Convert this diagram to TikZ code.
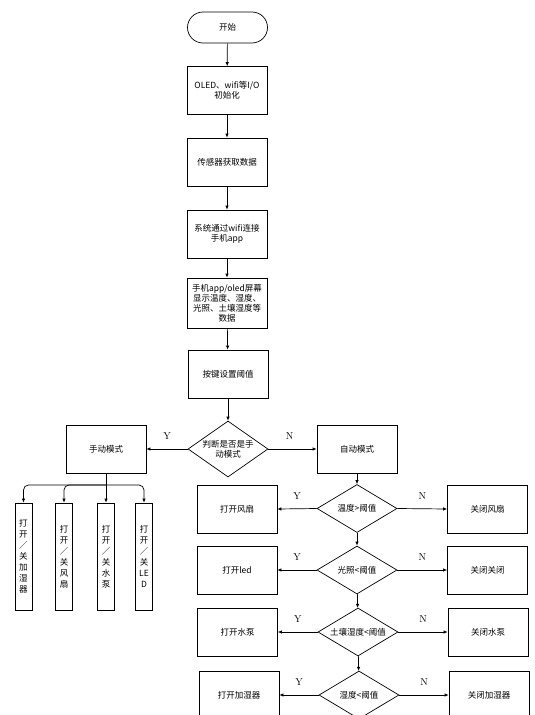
\documentclass[tikz,border=0pt]{standalone}
\usepackage{fontspec}
\newfontfamily\cjk{Noto Sans CJK SC}
\usepackage{tikz}
\usetikzlibrary{arrows.meta,shapes.geometric}

\tikzset{
  box/.style={draw, line width=0.7pt, minimum width=80pt, minimum height=48pt,
    inner sep=1pt, align=center, font=\cjk\fontsize{8.5}{10}\selectfont},
  startbox/.style={box, rounded corners=15.5pt, minimum height=31pt},
  judge/.style={draw, diamond, line width=0.7pt, minimum width=80pt, minimum height=48pt,
    aspect=1.67, inner sep=0pt, align=center, font=\cjk\fontsize{8.5}{10}\selectfont},
  vbox/.style={draw, line width=0.7pt, minimum width=17pt, minimum height=107pt,
    inner sep=0pt, align=center, font=\cjk\fontsize{8.5}{11}\selectfont},
  arr/.style={-{Latex[length=4pt,width=3.5pt]}, line width=0.7pt},
  yn/.style={inner sep=0pt, font=\fontsize{10}{10}\selectfont}
}

\begin{document}
\begin{tikzpicture}[x=1pt,y=-1pt]
  % 画面大小固定 (像素坐标, y 向下)
  \useasboundingbox (0,0) rectangle (535,715);
  \clip (0,0) rectangle (535,715);

  % 主流程
  \node[startbox] (start) at (227.5,27.5) {开始};
  \node[box] (init) at (227,90.5) {OLED、wifi等I/O\\初始化};
  \node[box] (sense) at (227,162) {传感器获取数据};
  \node[box] (link) at (227,234) {系统通过wifi连接\\手机app};
  \node[box, minimum height=50pt] (show) at (227,303)
    {手机app/oled屏幕\\显示温度、湿度、\\光照、土壤湿度等\\数据};
  \node[box] (keyset) at (228,374) {按键设置阈值};
  \node[judge, minimum height=56pt, aspect=1.43] (ismanual) at (228,449) {判断是否是手\\动模式};
  \node[box] (manual) at (106,449) {手动模式};
  \node[box] (auto) at (357,449) {自动模式};

  \draw[arr] (start) -- (init);
  \draw[arr] (init) -- (sense);
  \draw[arr] (sense) -- (link);
  \draw[arr] (link) -- (show);
  \draw[arr] (show) -- (keyset);
  \draw[arr] (keyset) -- (ismanual);
  \draw[arr] (ismanual.west) -- node[yn, above=9pt] {Y} (manual.east);
  \draw[arr] (ismanual.east) -- node[yn, above=9pt, xshift=-3pt] {N} (auto.west);

  % 手动模式: 四个开关
  \node[vbox] (v1) at (23.5,556.5) {打\\开\\／\\关\\加\\湿\\器};
  \node[vbox] (v2) at (64,556.5) {打\\开\\／\\关\\风\\扇};
  \node[vbox] (v3) at (106,556.5) {打\\开\\／\\关\\水\\泵};
  \node[vbox] (v4) at (144,556.5) {打\\开\\／\\关\\LE\\D};
  \coordinate (fork) at (106,485);

  \draw[arr] (manual.south) -- (v3.north);
  \foreach \v in {v1,v2,v4}
    \draw[arr, rounded corners=5pt] (fork) -| (\v.north);

  % 自动模式: 阈值判断
  \node[judge] (d1) at (357,508.5) {温度>阈值};
  \node[box] (fanOn) at (237,509) {打开风扇};
  \node[box] (fanOff) at (487.5,509) {关闭风扇};

  \node[judge] (d2) at (357,570) {光照<阈值};
  \node[box] (ledOn) at (237,570) {打开led};
  \node[box] (ledOff) at (487.5,570) {关闭关闭};

  \node[judge] (d3) at (358,632) {土壤湿度<阈值};
  \node[box] (pumpOn) at (237.5,632) {打开水泵};
  \node[box] (pumpOff) at (488,632) {关闭水泵};

  \node[judge] (d4) at (359,695) {湿度<阈值};
  \node[box] (humOn) at (239,695) {打开加湿器};
  \node[box] (humOff) at (489,695) {关闭加湿器};

  \draw[arr] (auto) -- (d1);
  \draw[arr] (d1) -- (d2);
  \draw[arr] (d2) -- (d3);
  \draw[arr] (d3) -- (d4);

  \foreach \d/\l/\r in {d1/fanOn/fanOff, d2/ledOn/ledOff, d3/pumpOn/pumpOff, d4/humOn/humOff} {
    \draw[arr] (\d.west) -- node[yn, above=9pt] {Y} (\l.east);
    \draw[arr] (\d.east) -- node[yn, above=9pt] {N} (\r.west);
  }
\end{tikzpicture}
\end{document}
